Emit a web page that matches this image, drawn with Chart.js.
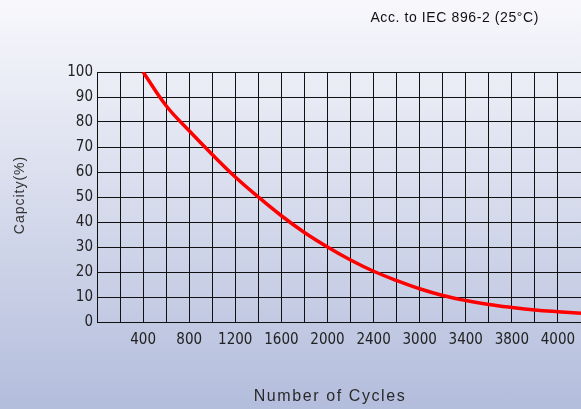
<!DOCTYPE html>
<html>
<head>
<meta charset="utf-8">
<script src="https://cdn.jsdelivr.net/npm/chart.js@4"></script>
<style>
    html, body {
        margin: 0;
        padding: 0;
        width: 581px;
        height: 409px;
        overflow: hidden;
        background: linear-gradient(to bottom, #f8f8fc 0%, #d6dbec 50%, #b3bddc 100%);
    }
    #chart-wrap {
        width: 590px;
        height: 409px;
    }
</style>
</head>
<body>
<div id="chart-wrap"><canvas id="cycle-chart"></canvas></div>
<script>
// Cycle life data
const cycles = [400, 600, 800, 1000, 1200, 1400, 1600, 1800, 2000, 2200, 2400, 2600, 2800, 3000, 3200, 3400, 3600, 3800, 4000, 4200];
const capacity = [100, 86.5, 76.5, 67, 58, 50, 42.5, 35.8, 30, 24.8, 20.3, 16.6, 13.3, 10.6, 8.6, 7, 5.8, 4.8, 4.1, 3.5];

// Tick labels as printed on the original (its "3000" sits where 2800 would be)
const tickPositions = [400, 800, 1200, 1600, 2000, 2400, 2800, 3200, 3600, 4000];
const tickLabels = ['400', '800', '1200', '1600', '2000', '2400', '3000', '3400', '3800', '4000'];

const chartTitle = 'Acc. to IEC 896-2 (25°C)';
const xTitle = 'Number of Cycles';
const yTitle = 'Capcity(%)';

const tickFont = { family: "'Liberation Sans Narrow', 'DejaVu Sans Condensed', sans-serif", size: 15 };

// Titles sit at fixed spots in the original, with a bit of letter spacing
const captions = {
    id: 'captions',
    afterDraw(chart) {
        const ctx = chart.ctx;
        ctx.save();
        ctx.fillStyle = '#111';
        ctx.font = "14px 'Liberation Sans', Arial, sans-serif";
        ctx.letterSpacing = '0.6px';
        ctx.textAlign = 'right';
        ctx.textBaseline = 'middle';
        ctx.fillText(chartTitle, 539, 18);

        ctx.fillStyle = '#2a2a2a';
        ctx.font = "16px 'Liberation Sans', Arial, sans-serif";
        ctx.letterSpacing = '1.6px';
        ctx.textAlign = 'center';
        ctx.fillText(xTitle, 330, 397);

        ctx.fillStyle = '#333';
        ctx.font = "14px 'Liberation Sans', Arial, sans-serif";
        ctx.letterSpacing = '1px';
        ctx.translate(20, 195);
        ctx.rotate(-Math.PI / 2);
        ctx.fillText(yTitle, 0, 0);
        ctx.restore();
    }
};

const ctx = document.getElementById('cycle-chart').getContext('2d');
new Chart(ctx, {
    type: 'line',
    data: {
        datasets: [{
            data: cycles.map((c, i) => ({ x: c, y: capacity[i] })),
            borderColor: '#ff0000',
            borderWidth: 3.5,
            pointRadius: 0,
            tension: 0.4,
            fill: false
        }]
    },
    options: {
        responsive: true,
        maintainAspectRatio: false,
        animation: false,
        layout: { padding: { top: 72, right: 8, bottom: 0, left: 0 } },
        plugins: {
            legend: { display: false },
            tooltip: { enabled: false }
        },
        scales: {
            x: {
                type: 'linear',
                min: 0,
                max: 4200,
                afterFit: (scale) => { scale.height = 87; },
                ticks: {
                    stepSize: 200,
                    autoSkip: false,
                    maxRotation: 0,
                    padding: 9,
                    color: '#222',
                    font: tickFont,
                    callback: (v) => {
                        const i = tickPositions.indexOf(v);
                        return i >= 0 ? tickLabels[i] : '';
                    }
                },
                grid: { color: '#111', lineWidth: 1, drawTicks: false },
                border: { color: '#111', width: 1 }
            },
            y: {
                min: 0,
                max: 100,
                afterFit: (scale) => { scale.width = 97; },
                ticks: {
                    stepSize: 10,
                    padding: 4,
                    color: '#222',
                    font: tickFont
                },
                grid: { color: '#111', lineWidth: 1, drawTicks: false },
                border: { color: '#111', width: 1 }
            }
        }
    },
    plugins: [captions]
});
</script>
</body>
</html>
